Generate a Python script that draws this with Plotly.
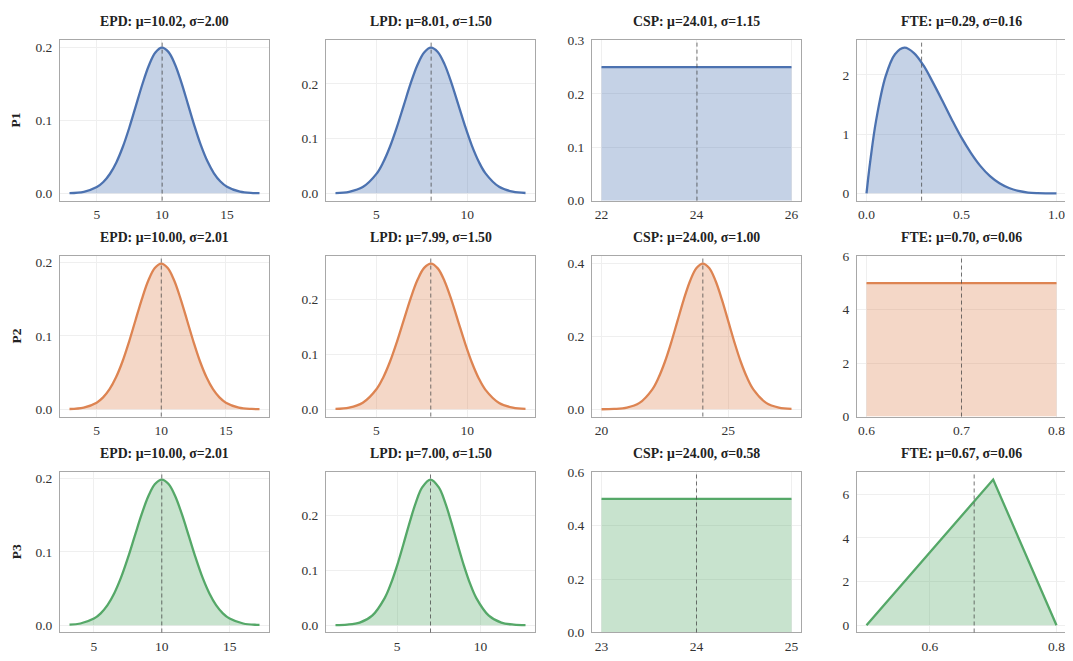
import plotly.graph_objects as go

# ---------------- data ----------------
row_labels = ["P1", "P2", "P3"]

titles = [
    ["EPD: μ=10.02, σ=2.00", "LPD: μ=8.01, σ=1.50", "CSP: μ=24.01, σ=1.15", "FTE: μ=0.29, σ=0.16"],
    ["EPD: μ=10.00, σ=2.01", "LPD: μ=7.99, σ=1.50", "CSP: μ=24.00, σ=1.00", "FTE: μ=0.70, σ=0.06"],
    ["EPD: μ=10.00, σ=2.01", "LPD: μ=7.00, σ=1.50", "CSP: μ=24.00, σ=0.58", "FTE: μ=0.67, σ=0.06"],
]

means = [
    [10.02, 8.01, 24.01, 0.29],
    [10.00, 7.99, 24.00, 0.70],
    [10.00, 7.00, 24.00, 0.67],
]

# P1
p1_epd_x = [2.9, 4, 5, 5.5, 6, 6.5, 7, 7.5, 8, 8.5, 9, 9.5, 10, 10.5, 11, 11.5, 12, 12.5,
            13, 13.5, 14, 14.5, 15, 16, 17, 17.5]
p1_epd_y = [0.00035, 0.00215, 0.00855, 0.0155, 0.0265, 0.0424, 0.0638, 0.0902, 0.1198, 0.1494,
            0.1752, 0.1929, 0.1995, 0.1938, 0.1769, 0.1517, 0.1222, 0.0925, 0.0657, 0.0439,
            0.0275, 0.0162, 0.0090, 0.00228, 0.00045, 0.00018]
p1_lpd_x = [2.75, 3.5, 4.25, 5, 5.375, 5.75, 6.125, 6.5, 6.875, 7.25, 7.625, 8, 8.375, 8.75,
            9.125, 9.5, 9.875, 10.25, 10.625, 11, 11.75, 12.5, 13.2]
p1_lpd_y = [0.00057, 0.0029, 0.0115, 0.0355, 0.0568, 0.0855, 0.1208, 0.1602, 0.1998, 0.2339,
            0.2573, 0.2660, 0.2582, 0.2355, 0.2018, 0.1624, 0.1228, 0.0872, 0.0582, 0.0365,
            0.0119, 0.0030, 0.00067]
p1_csp_x = [22, 26]
p1_csp_y = [0.25, 0.25]
p1_fte_x = [0, 0.01, 0.02, 0.05, 0.1, 0.15, 0.2, 0.25, 0.3, 0.35, 0.4, 0.45, 0.5, 0.55, 0.6,
            0.65, 0.7, 0.75, 0.8, 0.85, 0.9, 0.95, 1.0]
p1_fte_y = [0, 0.29, 0.55, 1.22, 1.97, 2.35, 2.46, 2.37, 2.16, 1.87, 1.56, 1.24, 0.94, 0.68, 0.46,
            0.29, 0.17, 0.09, 0.04, 0.013, 0.003, 0.0002, 0.0]

# P2
p2_epd_x = [2.9, 4, 5, 5.5, 6, 6.5, 7, 7.5, 8, 8.5, 9, 9.5, 10, 10.5, 11, 11.5, 12, 12.5,
            13, 13.5, 14, 14.5, 15, 16, 17, 17.6]
p2_epd_y = [0.00039, 0.00231, 0.0090, 0.0162, 0.0274, 0.0436, 0.0651, 0.0916, 0.1210, 0.1502,
            0.1754, 0.1924, 0.1985, 0.1924, 0.1754, 0.1502, 0.1210, 0.0916, 0.0651, 0.0436,
            0.0274, 0.0162, 0.0090, 0.00231, 0.00046, 0.00016]
p2_lpd_x = [2.75, 3.5, 4.25, 5, 5.375, 5.75, 6.125, 6.5, 6.875, 7.25, 7.625, 8, 8.375, 8.75,
            9.125, 9.5, 9.875, 10.25, 10.625, 11, 11.75, 12.5, 13.2]
p2_lpd_y = [0.0006, 0.0030, 0.0119, 0.0365, 0.0582, 0.0872, 0.1228, 0.1624, 0.2018, 0.2355,
            0.2582, 0.2660, 0.2573, 0.2339, 0.1998, 0.1602, 0.1208, 0.0855, 0.0568, 0.0355,
            0.0115, 0.0029, 0.00064]
p2_csp_x = [20, 20.5, 21, 21.5, 22, 22.25, 22.5, 22.75, 23, 23.25, 23.5, 23.75, 24, 24.25,
            24.5, 24.75, 25, 25.25, 25.5, 25.75, 26, 26.5, 27, 27.5]
p2_csp_y = [0.00013, 0.00087, 0.0044, 0.0175, 0.0540, 0.0863, 0.1295, 0.1827, 0.2420, 0.3011,
            0.3521, 0.3867, 0.3989, 0.3867, 0.3521, 0.3011, 0.2420, 0.1827, 0.1295, 0.0863,
            0.0540, 0.0175, 0.0044, 0.00087]
p2_fte_x = [0.6, 0.8]
p2_fte_y = [5.0, 5.0]

# P3
p3_epd_x = [3.2, 4, 5, 5.5, 6, 6.5, 7, 7.5, 8, 8.5, 9, 9.5, 10, 10.5, 11, 11.5, 12, 12.5,
            13, 13.5, 14, 14.5, 15, 16, 17, 17.2]
p3_epd_y = [0.00065, 0.00231, 0.0090, 0.0162, 0.0274, 0.0436, 0.0651, 0.0916, 0.1210, 0.1502,
            0.1754, 0.1924, 0.1985, 0.1924, 0.1754, 0.1502, 0.1210, 0.0916, 0.0651, 0.0436,
            0.0274, 0.0162, 0.0090, 0.00231, 0.00046, 0.00032]
p3_lpd_x = [1.3, 2, 2.75, 3.5, 4.25, 4.625, 5, 5.375, 5.75, 6.125, 6.5, 7, 7.5, 7.875, 8.25,
            8.625, 9, 9.375, 9.75, 10.5, 11.25, 12, 12.7]
p3_lpd_y = [0.00019, 0.00103, 0.0048, 0.0175, 0.0495, 0.0759, 0.1093, 0.1479, 0.1879, 0.2244,
            0.2516, 0.2660, 0.2516, 0.2244, 0.1879, 0.1479, 0.1093, 0.0759, 0.0495, 0.0175,
            0.0048, 0.00103, 0.00019]
p3_csp_x = [23, 25]
p3_csp_y = [0.5, 0.5]
p3_fte_x = [0.5, 0.7, 0.8]
p3_fte_y = [0.0, 6.67, 0.0]

series_x = [
    [p1_epd_x, p1_lpd_x, p1_csp_x, p1_fte_x],
    [p2_epd_x, p2_lpd_x, p2_csp_x, p2_fte_x],
    [p3_epd_x, p3_lpd_x, p3_csp_x, p3_fte_x],
]
series_y = [
    [p1_epd_y, p1_lpd_y, p1_csp_y, p1_fte_y],
    [p2_epd_y, p2_lpd_y, p2_csp_y, p2_fte_y],
    [p3_epd_y, p3_lpd_y, p3_csp_y, p3_fte_y],
]
# uniform panels use y-limits (0, 1.2*height)
is_uniform = [
    [False, False, True, False],
    [False, False, False, True],
    [False, False, True, False],
]

x_ticks = [
    [[5, 10, 15], [5, 10], [22, 24, 26], [0.0, 0.5, 1.0]],
    [[5, 10, 15], [5, 10], [20, 25], [0.6, 0.7, 0.8]],
    [[5, 10, 15], [5, 10], [23, 24, 25], [0.6, 0.8]],
]
x_ticklabels = [
    [["5", "10", "15"], ["5", "10"], ["22", "24", "26"], ["0.0", "0.5", "1.0"]],
    [["5", "10", "15"], ["5", "10"], ["20", "25"], ["0.6", "0.7", "0.8"]],
    [["5", "10", "15"], ["5", "10"], ["23", "24", "25"], ["0.6", "0.8"]],
]
y_ticks = [
    [[0.0, 0.1, 0.2], [0.0, 0.1, 0.2], [0.0, 0.1, 0.2, 0.3], [0, 1, 2]],
    [[0.0, 0.1, 0.2], [0.0, 0.1, 0.2], [0.0, 0.2, 0.4], [0, 2, 4, 6]],
    [[0.0, 0.1, 0.2], [0.0, 0.1, 0.2], [0.0, 0.2, 0.4, 0.6], [0, 2, 4, 6]],
]
y_ticklabels = [
    [["0.0", "0.1", "0.2"], ["0.0", "0.1", "0.2"], ["0.0", "0.1", "0.2", "0.3"], ["0", "1", "2"]],
    [["0.0", "0.1", "0.2"], ["0.0", "0.1", "0.2"], ["0.0", "0.2", "0.4"], ["0", "2", "4", "6"]],
    [["0.0", "0.1", "0.2"], ["0.0", "0.1", "0.2"], ["0.0", "0.2", "0.4", "0.6"], ["0", "2", "4", "6"]],
]

# ---------------- styling ----------------
OFF = 8  # page body margin offset
W, H = 1073 - OFF, 661 - OFF
line_colors = ["#4c72b0", "#dd8452", "#55a868"]
fill_colors = ["rgba(76,114,176,0.32)", "rgba(221,132,82,0.32)", "rgba(85,168,104,0.32)"]
col_left = [60, 326, 592, 857]
col_w = 209
row_top = [34, 255, 476]
row_h = 164
FONT = "Liberation Serif, Times New Roman, serif"

fig = go.Figure()
annotations = []
shapes = []

for r in range(3):
    for c in range(4):
        k = r * 4 + c + 1
        xs = series_x[r][c]
        ys = series_y[r][c]
        xa = "x" if k == 1 else f"x{k}"
        ya = "y" if k == 1 else f"y{k}"
        fig.add_trace(go.Scatter(
            x=xs, y=ys, xaxis=xa, yaxis=ya, mode="lines",
            line=dict(color=line_colors[r], width=2.3,
                      shape="spline" if len(xs) > 3 else "linear", smoothing=1.0),
            fill="tozeroy", fillcolor=fill_colors[r], showlegend=False,
            hoverinfo="skip",
        ))
        xmin, xmax = min(xs), max(xs)
        xpad = 0.05 * (xmax - xmin)
        ymax = max(ys)
        if is_uniform[r][c]:
            yr = [0, 1.2 * ymax]
        else:
            yr = [-0.05 * ymax, 1.05 * ymax]
        x0 = (col_left[c] - OFF) / W
        x1 = (col_left[c] + col_w - OFF) / W
        y1 = 1 - (row_top[r] - OFF) / H
        y0 = 1 - (row_top[r] + row_h - OFF) / H
        axis_common = dict(
            showline=True, linecolor="#a8a8a8", linewidth=1, mirror=True,
            showgrid=True, gridcolor="#efefef", gridwidth=1,
            zeroline=False, ticks="", tickfont=dict(family=FONT, size=13.5, color="#333333"),
        )
        fig.layout[f"xaxis{k}"] = dict(
            domain=[x0, x1], anchor=ya, range=[xmin - xpad, xmax + xpad],
            tickmode="array", tickvals=x_ticks[r][c], ticktext=x_ticklabels[r][c],
            ticklabelstandoff=1, **axis_common)
        fig.layout[f"yaxis{k}"] = dict(
            domain=[y0, y1], anchor=xa, range=yr,
            tickmode="array", tickvals=y_ticks[r][c], ticktext=y_ticklabels[r][c],
            ticklabelstandoff=4, **axis_common)
        shapes.append(dict(
            type="line", xref=xa, yref=f"{ya} domain", x0=means[r][c], x1=means[r][c],
            y0=0, y1=1, line=dict(color="rgba(70,70,70,0.75)", width=1, dash="4px,3px"),
        ))
        annotations.append(dict(
            text=f"<b>{titles[r][c]}</b>", xref="paper", yref="paper",
            x=(x0 + x1) / 2, y=y1, xanchor="center", yanchor="bottom", yshift=9,
            showarrow=False, font=dict(family=FONT, size=13.8, color="#222222"),
        ))
    annotations.append(dict(
        text=f"<b>{row_labels[r]}</b>", xref="paper", yref="paper",
        x=(16 - OFF) / W, y=1 - (row_top[r] + row_h / 2 - OFF) / H,
        xanchor="center", yanchor="middle",
        textangle=-90, showarrow=False, font=dict(family=FONT, size=13.5, color="#222222"),
    ))

fig.update_layout(
    width=W, height=H, margin=dict(l=0, r=0, t=0, b=0),
    paper_bgcolor="white", plot_bgcolor="white",
    annotations=annotations, shapes=shapes, showlegend=False,
)

fig.write_html("out.html")
